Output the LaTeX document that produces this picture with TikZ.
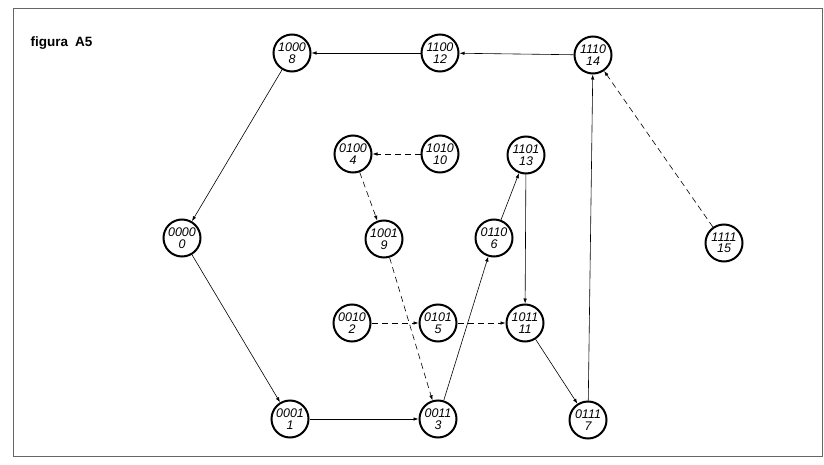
\documentclass[tikz,border=0pt]{standalone}
\usepackage{fontspec}
\setmainfont{Liberation Sans}
\usetikzlibrary{arrows.meta}
\tikzset{
  st/.style={circle,draw,line width=2pt,minimum size=37pt,inner sep=0pt,align=center,
    font=\fontsize{12.5}{11.5}\selectfont\itshape},
  ed/.style={line width=0.6pt,-{Latex[length=5pt,width=3.5pt]}},
  dsh/.style={ed,dash pattern=on 6pt off 4pt},
  frame/.style={draw=black!60,line width=0.6pt}
}
\begin{document}
\begin{tikzpicture}[x=1pt,y=-1pt]
\useasboundingbox (0,0) rectangle (824,465);
\draw[frame] (13,8) rectangle (822,456);
\node[font=\fontsize{13.5}{15}\selectfont\bfseries,anchor=base west] (title) at (27,47) {figura\hspace{7pt}A5};
\node[st] (n8)  at (292,53) {1000\\8};
\node[st] (n12) at (440,53) {1100\\12};
\node[st] (n14) at (593,55) {1110\\14};
\node[st] (n4)  at (353,154) {0100\\4};
\node[st] (n10) at (440,154) {1010\\10};
\node[st] (n13) at (526,155) {1101\\13};
\node[st] (n0)  at (182,238) {0000\\0};
\node[st] (n9)  at (384,239) {1001\\9};
\node[st] (n6)  at (494,238) {0110\\6};
\node[st] (n15) at (724,243) {1111\\15};
\node[st] (n2)  at (352,323) {0010\\2};
\node[st] (n5)  at (438,323) {0101\\5};
\node[st] (n11) at (525,323) {1011\\11};
\node[st] (n1)  at (290,419) {0001\\1};
\node[st] (n3)  at (438,419) {0011\\3};
\node[st] (n7)  at (588,420) {0111\\7};
% solid
\draw[ed] (n12) -- (n8);
\draw[ed] (n14) -- (n12);
\draw[ed] (n8) -- (n0);
\draw[ed] (n0) -- (n1);
\draw[ed] (n1) -- (n3);
\draw[ed] (n3) -- (n6);
\draw[ed] (n6) -- (n13);
\draw[ed] (n13) -- (n11);
\draw[ed] (n11) -- (n7);
\draw[ed] (n7) -- (n14);
% dashed
\draw[dsh] (n10) -- (n4);
\draw[dsh] (n4) -- (n9);
\draw[dsh] (n9) -- (n3);
\draw[dsh] (n2) -- (n5);
\draw[dsh] (n5) -- (n11);
\draw[dsh] (n15) -- (n14);
\end{tikzpicture}
\end{document}
